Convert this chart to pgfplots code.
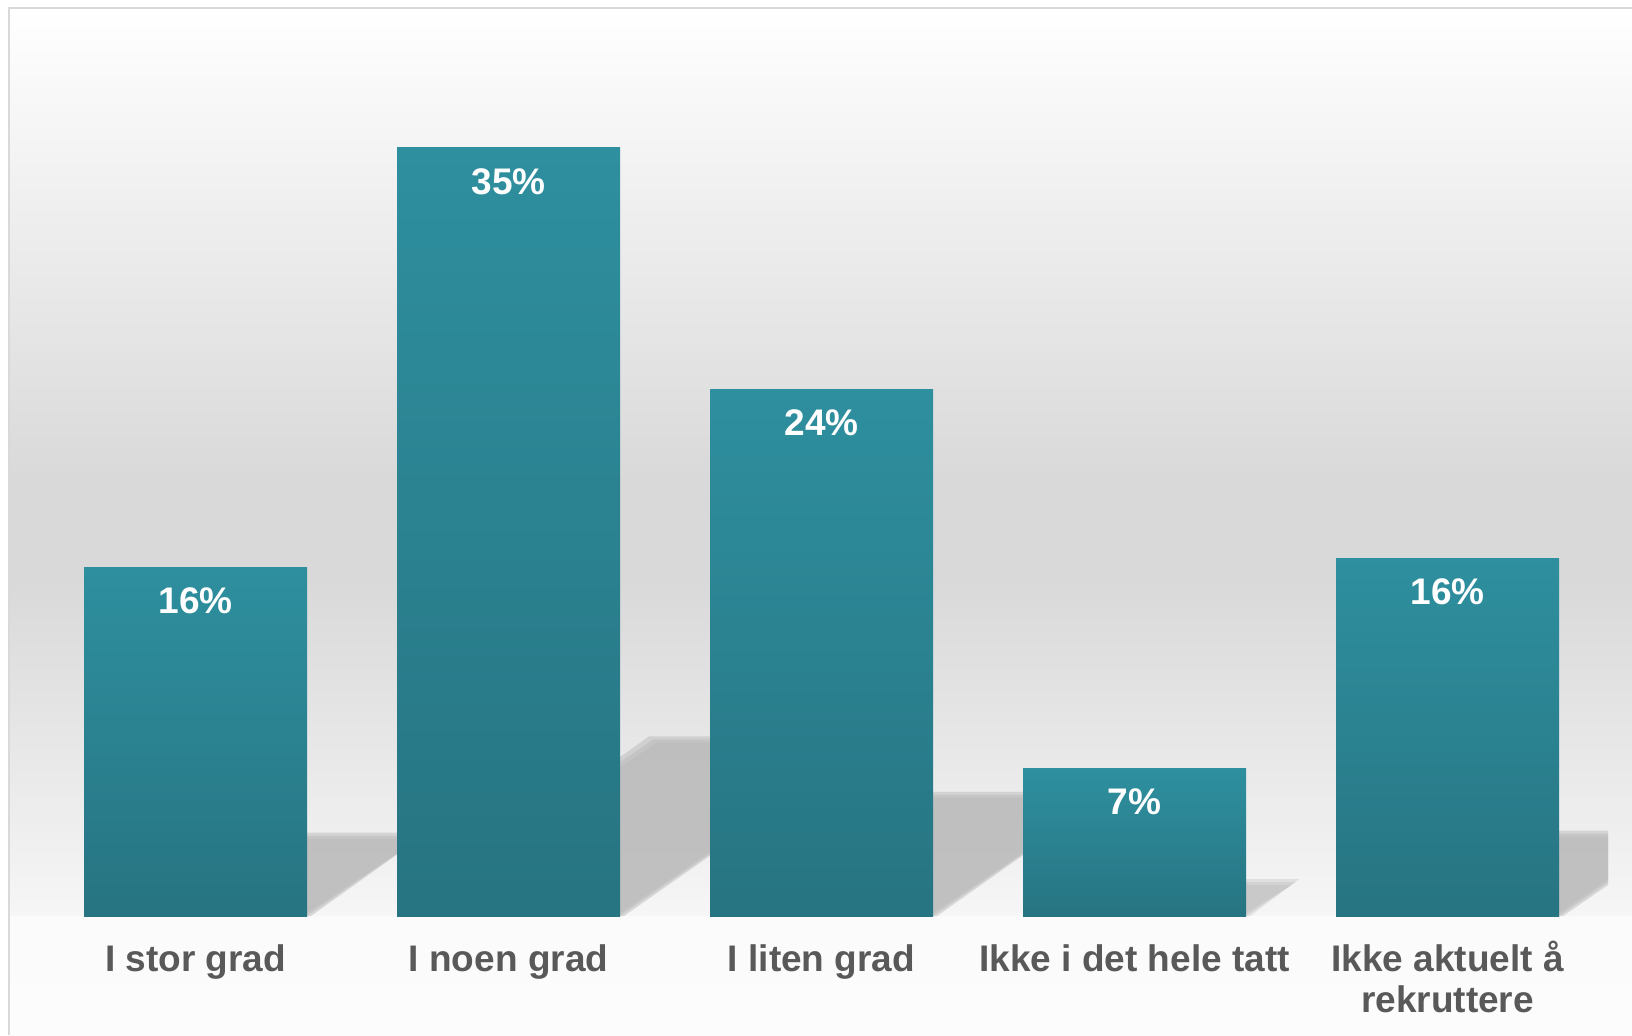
\documentclass[border=0pt]{standalone}
\usepackage{pgfplots}
\pgfplotsset{compat=1.18}
\usepackage{fontspec}
\setmainfont{Liberation Sans}
\definecolor{barTop}{HTML}{2E8F9E}
\definecolor{barBot}{HTML}{277482}
\definecolor{labelgray}{HTML}{595959}
\definecolor{shadowc}{HTML}{BABABA}
\definecolor{framec}{HTML}{D9D9D9}
\definecolor{bgmid}{HTML}{D9D9D9}
\definecolor{bglow}{HTML}{F6F6F6}

\pgfplotsset{
  tealbar/.style={ybar, bar width=111.5pt, draw=none, top color=barTop, bottom color=barBot,
    nodes near coords={\pgfmathprintnumber[fixed,precision=0]{\pgfplotspointmeta}\%},
    every node near coord/.append style={anchor=base, yshift=-23pt, text=white,
      font=\fontsize{18.5}{20.5}\selectfont\bfseries}},
  shadow/.style={fill=shadowc, fill opacity=0.5, draw=none},
}

\begin{document}
\begin{tikzpicture}
\begin{axis}[
  set layers,
  scale only axis, width=816pt, height=517.5pt,
  xmin=-0.6246, xmax=4.58946, ymin=-5.4232, ymax=41.745,
  axis line style={draw=none}, tick style={draw=none},
  ytick=\empty, xtick={0,1,2,3,4},
  xticklabels={I stor grad, I noen grad, I liten grad, Ikke i det hele tatt, {Ikke aktuelt \smash{å}\\rekruttere}},
  xticklabel style={align=center, font=\fontsize{18.5}{20.5}\selectfont\bfseries, text=labelgray, anchor=north, inner sep=0pt, yshift=45.5pt},
  /pgf/number format/assume math mode=true,
]
\begin{pgfonlayer}{axis background}
% background of the chart area
\fill[top color=white, bottom color=bgmid, draw=none] (rel axis cs:0.00613,0.53623) rectangle (rel axis cs:1,0.99227);
\fill[bgmid] (rel axis cs:0.00613,0.43961) rectangle (rel axis cs:1,0.53623);
\fill[top color=bgmid, bottom color=bglow, draw=none] (rel axis cs:0.00613,0.11498) rectangle (rel axis cs:1,0.43961);
\fill[top color=bglow!50!white, bottom color=white!99!black, draw=none] (rel axis cs:0.00613,0) rectangle (rel axis cs:1,0.11498);
\draw[framec, line width=1pt] (rel axis cs:0.005515,0) -- (rel axis cs:0.005515,0.99227) -- (rel axis cs:1,0.99227);
\end{pgfonlayer}

% floor shadows behind the bars (three offset copies for a soft edge)
\addplot[shadow] coordinates {(-0.356,0) (0.343,0) (0.715,3.523) (0.029,3.523)};
\addplot[shadow] coordinates {(-0.356,0) (0.356,0) (0.728,3.66) (0.016,3.66)};
\addplot[shadow] coordinates {(-0.356,0) (0.369,0) (0.741,3.797) (0.003,3.797)};

\addplot[shadow] coordinates {(0.644,0) (1.343,0) (2.161,7.913) (1.475,7.913)};
\addplot[shadow] coordinates {(0.644,0) (1.356,0) (2.174,8.05) (1.462,8.05)};
\addplot[shadow] coordinates {(0.644,0) (1.369,0) (2.187,8.187) (1.449,8.187)};

\addplot[shadow] coordinates {(1.644,0) (2.343,0) (2.904,5.383) (2.218,5.383)};
\addplot[shadow] coordinates {(1.644,0) (2.356,0) (2.917,5.52) (2.205,5.52)};
\addplot[shadow] coordinates {(1.644,0) (2.369,0) (2.930,5.657) (2.192,5.657)};

\addplot[shadow, fill opacity=0.35] coordinates {(2.644,0) (3.343,0) (3.500,1.403) (2.814,1.403)};
\addplot[shadow, fill opacity=0.35] coordinates {(2.644,0) (3.356,0) (3.513,1.54) (2.801,1.54)};
\addplot[shadow, fill opacity=0.35] coordinates {(2.644,0) (3.369,0) (3.526,1.677) (2.788,1.677)};

\addplot[shadow] coordinates {(3.644,0) (4.343,0) (4.5128,1.671) (4.5128,3.613) (4.038,3.613)};
\addplot[shadow] coordinates {(3.644,0) (4.356,0) (4.5128,1.54) (4.5128,3.75) (4.025,3.75)};
\addplot[shadow] coordinates {(3.644,0) (4.369,0) (4.5128,1.415) (4.5128,3.887) (4.012,3.887)};

% bars, one plot each so that every bar has its own gradient
\addplot[tealbar] coordinates {(0,15.9)};
\addplot[tealbar] coordinates {(1,35.0)};
\addplot[tealbar] coordinates {(2,24.0)};
\addplot[tealbar] coordinates {(3,6.7)};
\addplot[tealbar] coordinates {(4,16.3)};
\end{axis}
\end{tikzpicture}
\end{document}
